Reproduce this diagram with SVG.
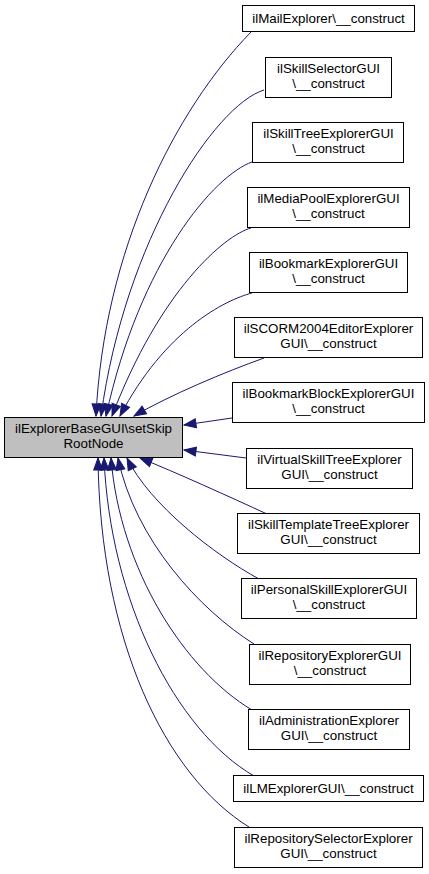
<svg xmlns="http://www.w3.org/2000/svg" width="429" height="874" viewBox="0 0 429 874">
<style>
  .box { fill: #ffffff; stroke: #000000; stroke-width: 1; }
  .main { fill: #bfbfbf; stroke: #000000; stroke-width: 1; }
  text { font-family: "Liberation Sans", Arial, Helvetica, sans-serif; font-size: 13.33px; fill: #000000; text-anchor: middle; }
  .edge { fill: none; stroke: #191970; stroke-width: 1; marker-end: url(#arrow); }
</style>
<defs>
  <marker id="arrow" markerUnits="userSpaceOnUse" markerWidth="14" markerHeight="12" viewBox="0 0 14 12" refX="13" refY="6" orient="auto">
    <path d="M1,1.5 L13,6 L1,10.5 Z" fill="#191970" stroke="#191970" stroke-width="1"/>
  </marker>
</defs>
<rect width="429" height="874" fill="#ffffff"/>
<g id="connectors">
  <path class="edge" d="M251,32 C175,110 104,250 96,416"/>
  <path class="edge" d="M264,90 C215,105 125,240 101,416"/>
  <path class="edge" d="M252,162 C215,175 140,260 106,416"/>
  <path class="edge" d="M251,228 C225,235 160,290 112,416"/>
  <path class="edge" d="M252,293 C225,300 165,330 120,416"/>
  <path class="edge" d="M264,358 C225,372 170,395 134,416"/>
  <path class="edge" d="M232,418 L184,425"/>
  <path class="edge" d="M246,458 L184,450"/>
  <path class="edge" d="M267,514 C230,497 175,472 140,458"/>
  <path class="edge" d="M259,579 C215,555 150,505 127,458"/>
  <path class="edge" d="M254,644 C200,610 135,540 118,458"/>
  <path class="edge" d="M252,710 C185,670 120,570 111,458"/>
  <path class="edge" d="M254,776 C175,730 110,600 104,458"/>
  <path class="edge" d="M249,827 C165,775 100,640 98,458"/>
</g>
<g id="node_main">
  <rect class="main" x="4.5" y="417.5" width="178" height="40"/>
  <text x="93.5" y="433">ilExplorerBaseGUI\setSkip</text>
  <text x="93.5" y="448">RootNode</text>
</g>
<g id="node_mail">
  <rect class="box" x="242.5" y="5.5" width="172" height="26"/>
  <text x="328.5" y="23">ilMailExplorer\__construct</text>
</g>
<g id="node_skillselector">
  <rect class="box" x="265.5" y="57.5" width="126" height="40"/>
  <text x="328.5" y="73">ilSkillSelectorGUI</text>
  <text x="328.5" y="88">\__construct</text>
</g>
<g id="node_skilltree">
  <rect class="box" x="252.5" y="122.5" width="151" height="40"/>
  <text x="328.5" y="138">ilSkillTreeExplorerGUI</text>
  <text x="328.5" y="153">\__construct</text>
</g>
<g id="node_mediapool">
  <rect class="box" x="247.5" y="187.5" width="162" height="40"/>
  <text x="328.5" y="203">ilMediaPoolExplorerGUI</text>
  <text x="328.5" y="218">\__construct</text>
</g>
<g id="node_bookmark">
  <rect class="box" x="249.5" y="252.5" width="158" height="40"/>
  <text x="328.5" y="268">ilBookmarkExplorerGUI</text>
  <text x="328.5" y="283">\__construct</text>
</g>
<g id="node_scorm">
  <rect class="box" x="234.5" y="317.5" width="188" height="40"/>
  <text x="328.5" y="333">ilSCORM2004EditorExplorer</text>
  <text x="328.5" y="348">GUI\__construct</text>
</g>
<g id="node_bookmarkblock">
  <rect class="box" x="232.5" y="382.5" width="192" height="40"/>
  <text x="328.5" y="398">ilBookmarkBlockExplorerGUI</text>
  <text x="328.5" y="413">\__construct</text>
</g>
<g id="node_virtualskilltree">
  <rect class="box" x="246.5" y="448.5" width="166" height="40"/>
  <text x="329.5" y="464">ilVirtualSkillTreeExplorer</text>
  <text x="329.5" y="479">GUI\__construct</text>
</g>
<g id="node_skilltemplate">
  <rect class="box" x="237.5" y="513.5" width="182" height="40"/>
  <text x="328.5" y="529">ilSkillTemplateTreeExplorer</text>
  <text x="328.5" y="544">GUI\__construct</text>
</g>
<g id="node_personalskill">
  <rect class="box" x="241.5" y="578.5" width="175" height="40"/>
  <text x="329" y="594">ilPersonalSkillExplorerGUI</text>
  <text x="329" y="609">\__construct</text>
</g>
<g id="node_repository">
  <rect class="box" x="249.5" y="644.5" width="161" height="40"/>
  <text x="330" y="660">ilRepositoryExplorerGUI</text>
  <text x="330" y="675">\__construct</text>
</g>
<g id="node_administration">
  <rect class="box" x="248.5" y="709.5" width="161" height="40"/>
  <text x="329" y="725">ilAdministrationExplorer</text>
  <text x="329" y="740">GUI\__construct</text>
</g>
<g id="node_lmexplorer">
  <rect class="box" x="233.5" y="775.5" width="190" height="26"/>
  <text x="328.5" y="793">ilLMExplorerGUI\__construct</text>
</g>
<g id="node_repositoryselector">
  <rect class="box" x="234.5" y="827.5" width="188" height="40"/>
  <text x="328.5" y="843">ilRepositorySelectorExplorer</text>
  <text x="328.5" y="858">GUI\__construct</text>
</g>
</svg>
